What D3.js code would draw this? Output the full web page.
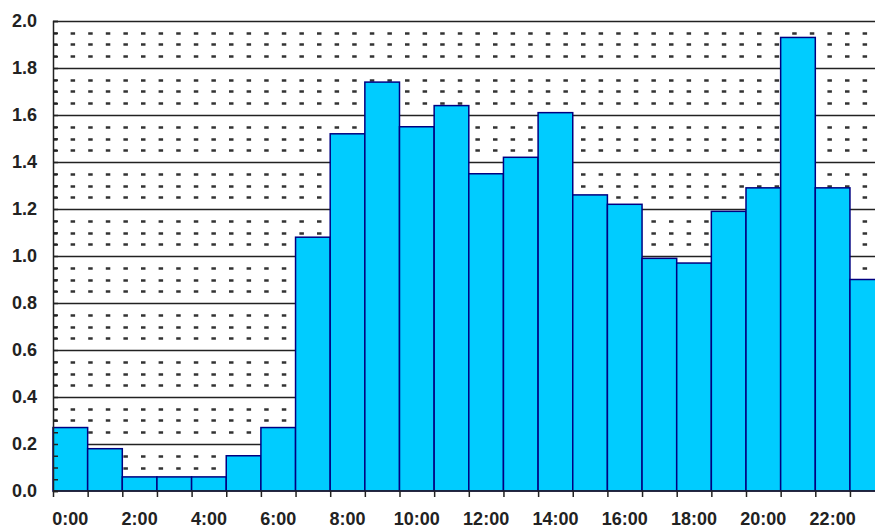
<!DOCTYPE html>
<html>
<head>
<meta charset="utf-8">
<script src="https://cdn.jsdelivr.net/npm/d3@7"></script>
<style>
  html, body { margin: 0; padding: 0; background: #fff; overflow: hidden; }
  svg { display: block; }
  text { font-family: "Liberation Sans", Arial, sans-serif; font-weight: bold; fill: #222; }
</style>
</head>
<body>
<svg id="chart" width="875" height="529"></svg>
<script>
const hours = d3.range(24).map(h => h + ":00");
const values = [0.27, 0.18, 0.06, 0.06, 0.06, 0.15, 0.27, 1.08, 1.52, 1.74, 1.55, 1.64,
                1.35, 1.42, 1.61, 1.26, 1.22, 0.99, 0.97, 1.19, 1.29, 1.93, 1.29, 0.90];
const yTickValues = [0.0, 0.2, 0.4, 0.6, 0.8, 1.0, 1.2, 1.4, 1.6, 1.8, 2.0];
const xLabelHours = hours.filter((d, i) => i % 2 === 0);

(function () {
const svg = d3.select("#chart");
const mLeft = 53, mTop = 21, mBottom = 491, barW = 34.65;
const mRight = mLeft + barW * 24;

const x = d3.scaleBand().domain(hours).range([mLeft, mRight]).padding(0);
const xLin = d3.scaleLinear().domain([0, 24]).range([mLeft, mRight]);
const y = d3.scaleLinear().domain([0, 2]).range([mBottom, mTop]);

// minor dotted grid
const minor = d3.range(1, 40).map(i => i * 0.05).filter(v => Math.abs(v / 0.2 - Math.round(v / 0.2)) > 1e-6);
svg.append("g").selectAll("line").data(minor).join("line")
  .attr("x1", mLeft).attr("x2", 875)
  .attr("y1", d => Math.round(y(d)) + 0.5).attr("y2", d => Math.round(y(d)) + 0.5)
  .attr("stroke", "#333").attr("stroke-width", 2.5)
  .attr("stroke-dasharray", "4.5 13.1");

// major solid grid
svg.append("g").selectAll("line").data(yTickValues.slice(1)).join("line")
  .attr("x1", mLeft).attr("x2", 875)
  .attr("y1", d => Math.round(y(d)) + 0.5).attr("y2", d => Math.round(y(d)) + 0.5)
  .attr("stroke", "#222").attr("stroke-width", 1.5);

// bars
svg.append("g").selectAll("rect").data(values).join("rect")
  .attr("x", (d, i) => x(hours[i]))
  .attr("y", d => y(d))
  .attr("width", x.bandwidth())
  .attr("height", d => y(0) - y(d))
  .attr("fill", "#00CCFF")
  .attr("stroke", "#000080")
  .attr("stroke-width", 1.5);

// y axis
const yAxis = d3.axisLeft(y)
  .tickValues(d3.range(0, 41).map(i => i * 0.05))
  .tickSize(-5)
  .tickPadding(16)
  .tickFormat(d => {
    const r = Math.round(d * 100);
    return r % 20 === 0 ? d3.format(".1f")(d) : "";
  });
const gy = svg.append("g").attr("transform", `translate(${mLeft},0)`).call(yAxis);
gy.select(".domain").attr("stroke", "#222").attr("stroke-width", 1.5);
gy.selectAll(".tick line").attr("stroke", "#222").attr("stroke-width", 1.5);
gy.selectAll("text").attr("font-size", 18).style("fill", "#222");

// x axis boundary ticks
const xAxisTicks = d3.axisBottom(xLin).tickValues(d3.range(0, 25)).tickSize(6).tickFormat("");
const gx = svg.append("g").attr("transform", `translate(0,${mBottom})`).call(xAxisTicks);
gx.select(".domain").remove();
gx.selectAll(".tick line").attr("stroke", "#222").attr("stroke-width", 1.5);
svg.append("line").attr("x1", mLeft).attr("x2", 875).attr("y1", mBottom).attr("y2", mBottom)
  .attr("stroke", "#222").attr("stroke-width", 1.5);

// x labels
const xAxisLabels = d3.axisBottom(x).tickValues(xLabelHours).tickSize(0).tickPadding(21);
const gxl = svg.append("g").attr("transform", `translate(0,${mBottom})`).call(xAxisLabels);
gxl.select(".domain").remove();
gxl.selectAll("text").attr("font-size", 18).style("fill", "#222");
})();
</script>
</body>
</html>
